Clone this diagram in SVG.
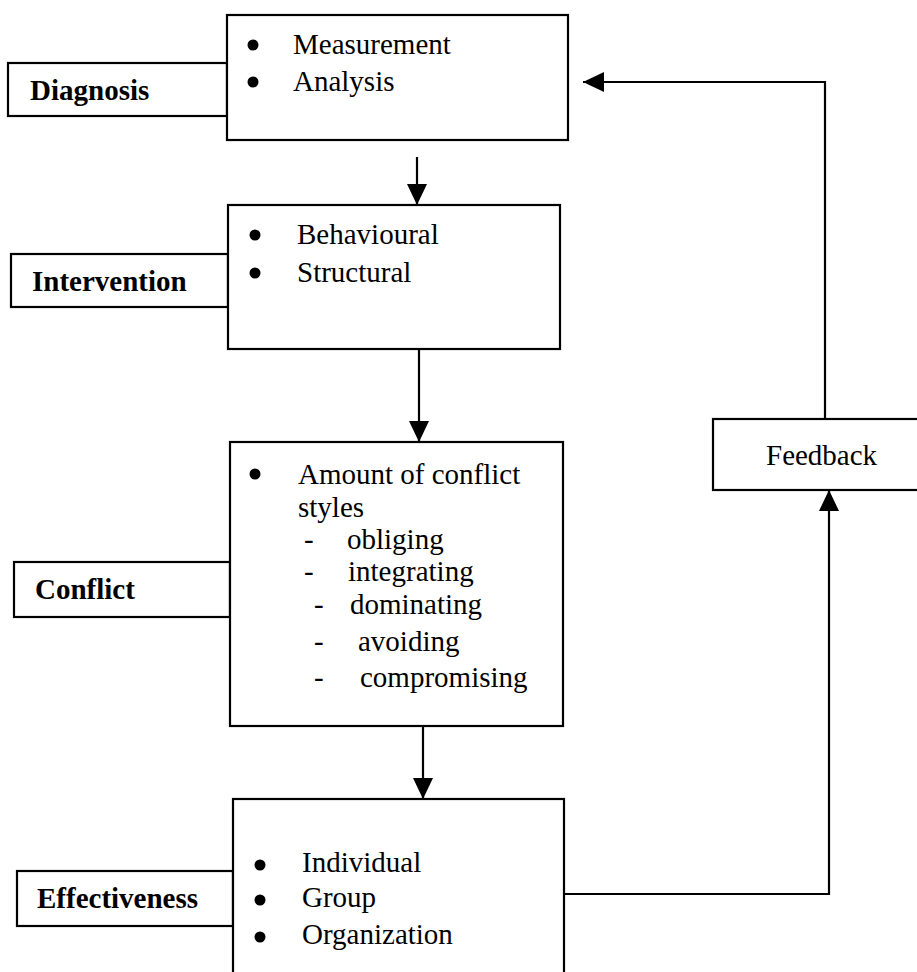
<svg xmlns="http://www.w3.org/2000/svg" width="917" height="972" viewBox="0 0 917 972">
  <style>
    .box { fill: #ffffff; stroke: #000000; stroke-width: 2.2; }
    .wire { fill: none; stroke: #000000; stroke-width: 2.2; }
    .txt { font-family: "Liberation Serif", "Times New Roman", serif; font-size: 29px; fill: #000000; }
    .lbl { font-family: "Liberation Serif", "Times New Roman", serif; font-size: 29px; font-weight: bold; fill: #000000; }
    .dot { fill: #000000; }
  </style>
  <defs>
    <marker id="arrow" viewBox="0 0 21 20" refX="21" refY="10" markerWidth="21" markerHeight="20" markerUnits="userSpaceOnUse" orient="auto">
      <path d="M0,0 L21,10 L0,20 z" fill="#000000"/>
    </marker>
  </defs>

  <rect width="917" height="972" fill="#ffffff"/>

  <!-- Stage 1: diagnosis -->
  <g id="diagnosis">
    <rect class="box" x="8" y="63" width="219" height="53"/>
    <text class="lbl" x="30" y="100">Diagnosis</text>
    <rect class="box" x="227" y="15" width="341" height="125"/>
    <circle class="dot" cx="253" cy="45" r="5.5"/>
    <text class="txt" x="293" y="54">Measurement</text>
    <circle class="dot" cx="253" cy="82" r="5.5"/>
    <text class="txt" x="293" y="91">Analysis</text>
  </g>

  <!-- Stage 2: intervention -->
  <g id="intervention">
    <rect class="box" x="11" y="254" width="217" height="53"/>
    <text class="lbl" x="32" y="291">Intervention</text>
    <rect class="box" x="228" y="205" width="332" height="144"/>
    <circle class="dot" cx="255" cy="235" r="5.5"/>
    <text class="txt" x="297" y="244">Behavioural</text>
    <circle class="dot" cx="255" cy="273" r="5.5"/>
    <text class="txt" x="297" y="282">Structural</text>
  </g>

  <!-- Stage 3: conflict -->
  <g id="conflict">
    <rect class="box" x="14" y="562" width="216" height="55"/>
    <text class="lbl" x="35" y="599">Conflict</text>
    <rect class="box" x="230" y="442" width="333" height="284"/>
    <circle class="dot" cx="255" cy="474" r="5.5"/>
    <text class="txt" x="298" y="484">Amount of conflict</text>
    <text class="txt" x="298" y="517">styles</text>
    <text class="txt" x="304" y="549">-</text>
    <text class="txt" x="347" y="549">obliging</text>
    <text class="txt" x="304" y="581">-</text>
    <text class="txt" x="348" y="581">integrating</text>
    <text class="txt" x="314" y="614">-</text>
    <text class="txt" x="350" y="614">dominating</text>
    <text class="txt" x="314" y="651">-</text>
    <text class="txt" x="358" y="651">avoiding</text>
    <text class="txt" x="314" y="687">-</text>
    <text class="txt" x="360" y="687">compromising</text>
  </g>

  <!-- Stage 4: effectiveness -->
  <g id="effectiveness">
    <rect class="box" x="17" y="871" width="216" height="55"/>
    <text class="lbl" x="37" y="908">Effectiveness</text>
    <rect class="box" x="233" y="799" width="331" height="190"/>
    <circle class="dot" cx="260" cy="865" r="5.5"/>
    <text class="txt" x="302" y="872">Individual</text>
    <circle class="dot" cx="260" cy="900" r="5.5"/>
    <text class="txt" x="302" y="907">Group</text>
    <circle class="dot" cx="260" cy="937" r="5.5"/>
    <text class="txt" x="302" y="944">Organization</text>
  </g>

  <!-- Feedback loop node -->
  <g id="feedback">
    <rect class="box" x="713" y="419" width="220" height="71"/>
    <text class="txt" x="766" y="465">Feedback</text>
  </g>

  <!-- Connectors -->
  <g id="connectors">
    <path class="wire" d="M417,157 L417,205" marker-end="url(#arrow)"/>
    <path class="wire" d="M419,349 L419,442" marker-end="url(#arrow)"/>
    <path class="wire" d="M423,726 L423,799" marker-end="url(#arrow)"/>
    <path class="wire" d="M564,894 L829,894 L829,490" marker-end="url(#arrow)"/>
    <path class="wire" d="M825,419 L825,82 L583,82" marker-end="url(#arrow)"/>
  </g>
</svg>
